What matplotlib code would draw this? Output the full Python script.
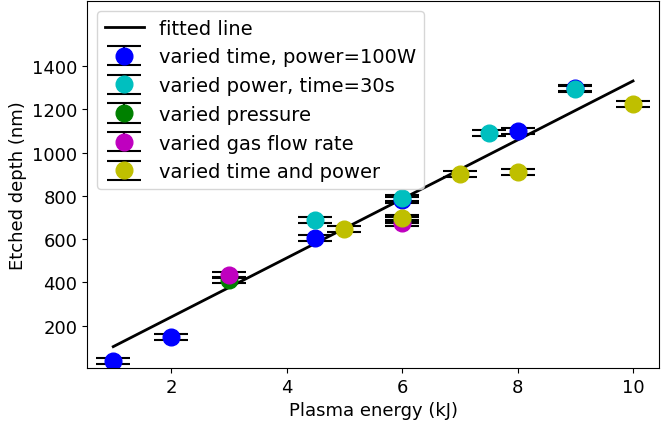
import matplotlib
matplotlib.use("Agg")
import matplotlib.pyplot as plt
import numpy as np

plt.rcParams['font.size'] = 13

# data
time_x = [1, 2, 4.5, 6, 8, 9]
time_y = [35, 150, 605, 780, 1100, 1300]
power_x = [4.5, 6, 7.5, 9]
power_y = [690, 790, 1090, 1295]
pressure_x = [3, 6]
pressure_y = [410, 690]
gas_x = [3, 6]
gas_y = [435, 675]
tp_x = [5, 6, 7, 8, 10]
tp_y = [645, 700, 900, 910, 1225]
fit_x = [1, 10]
fit_slope = 136.4
fit_intercept = -33.0
yerr_val = 14

fig = plt.figure(figsize=(6.61, 4.27), dpi=100)
ax = fig.add_axes([0.132, 0.136, 0.865, 0.859])

fx = np.array(fit_x, dtype=float)
ax.plot(fx, fit_slope * fx + fit_intercept, color='k', lw=2, label='fitted line')

series = [
    (time_x, time_y, 'b', 'varied time, power=100W'),
    (power_x, power_y, 'c', 'varied power, time=30s'),
    (pressure_x, pressure_y, 'g', 'varied pressure'),
    (gas_x, gas_y, 'm', 'varied gas flow rate'),
    (tp_x, tp_y, 'y', 'varied time and power'),
]
for xs, ys, c, lab in series:
    ax.errorbar(xs, ys, yerr=[yerr_val] * len(ys), fmt='o', color=c, ms=12,
                ecolor='k', elinewidth=1.5, capsize=12, capthick=1.5, label=lab)

ax.set_xlim(0.55, 10.45)
ax.set_ylim(5, 1700)
ax.set_yticks([200, 400, 600, 800, 1000, 1200, 1400])
ax.set_xticks([2, 4, 6, 8, 10])
ax.set_xlabel('Plasma energy (kJ)')
ax.set_ylabel('Etched depth (nm)')
ax.legend(loc='upper left', fontsize=14)

fig.savefig('out.png', dpi=100)
